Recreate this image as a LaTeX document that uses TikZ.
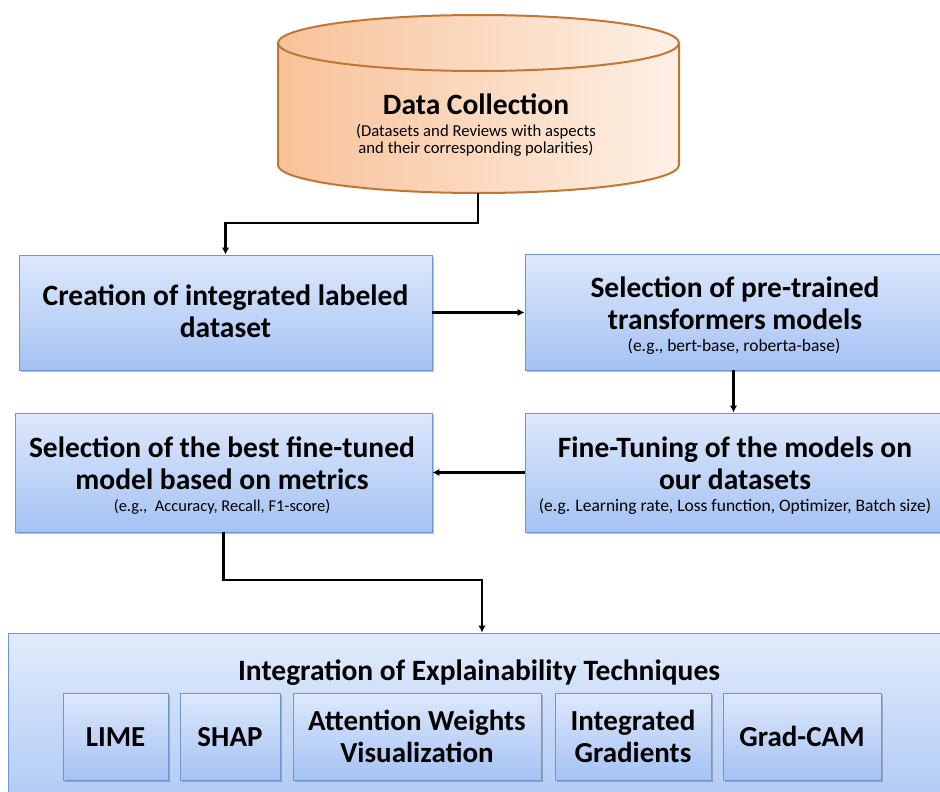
\documentclass[tikz,border=0pt]{standalone}
\usepackage{fontspec}
\setmainfont{Carlito}
\usetikzlibrary{arrows.meta,shadows,calc}

\definecolor{boxtop}{HTML}{DEE8FC}
\definecolor{boxbot}{HTML}{A4C2F3}
\definecolor{boxline}{HTML}{6F98D2}
\definecolor{bigtop}{HTML}{E2EBFC}
\definecolor{bigbot}{HTML}{B2CBF5}
\definecolor{cylleft}{HTML}{F8C299}
\definecolor{cylright}{HTML}{FEF0E6}
\definecolor{cylline}{HTML}{C17634}

\tikzset{
  procbox/.style={rectangle, draw=boxline, line width=0.9pt, inner sep=0pt,
    top color=boxtop, bottom color=boxbot,
    drop shadow={shadow xshift=1.5pt, shadow yshift=-2pt, opacity=0.35, fill=black!70}},
  bigbox/.style={procbox, top color=bigtop, bottom color=bigbot},
  maintext/.style={anchor=base, inner sep=0pt, font=\fontsize{29.5}{32}\selectfont\bfseries},
  subtext/.style={anchor=base, inner sep=0pt, font=\fontsize{17.5}{19}\selectfont},
  techtext/.style={anchor=base, inner sep=0pt, font=\fontsize{29}{32}\selectfont\bfseries},
  flow/.style={line width=2.2pt, -{Latex[length=7pt,width=7.5pt]}},
}

\begin{document}
\begin{tikzpicture}[x=1pt,y=1pt]
\clip (0,0) rectangle (940,-792);
\fill[white] (0,0) rectangle (940,-792);

% data store cylinder
\path[left color=cylleft, right color=cylright]
  (278,-43) -- (278,-165) arc[start angle=180, end angle=360, x radius=200.5, y radius=28]
  -- (679,-43) -- cycle;
\path[left color=cylleft, right color=cylright] (478.5,-43) ellipse[x radius=200.5, y radius=28];
\draw[cylline, line width=2pt]
  (278,-43) -- (278,-165) arc[start angle=180, end angle=360, x radius=200.5, y radius=28]
  -- (679,-43);
\draw[cylline, line width=2pt] (478.5,-43) ellipse[x radius=200.5, y radius=28];
\node[maintext] (dctitle) at (476,-114) {Data Collection};
\node[subtext, font=\fontsize{16.7}{18.5}\selectfont] (dcsub1) at (476,-136) {(Datasets and Reviews with aspects};
\node[subtext, font=\fontsize{16.7}{18.5}\selectfont] (dcsub2) at (476,-153) {and their corresponding polarities)};
\coordinate (dcbot) at (478,-193);

% process boxes
\node[procbox, minimum width=413pt, minimum height=115pt] (b1) at (225.5,-312.5) {};
\node[procbox, minimum width=417pt, minimum height=116pt] (b2) at (733.5,-312) {};
\node[procbox, minimum width=417pt, minimum height=119pt] (b3) at (223.5,-472.5) {};
\node[procbox, minimum width=417pt, minimum height=119pt] (b4) at (733.5,-472.5) {};

\node[maintext] (b1a) at (225.5,-305) {Creation of integrated labeled};
\node[maintext] (b1b) at (225.5,-337) {dataset};
\node[maintext] (b2a) at (735,-297) {Selection of pre-trained};
\node[maintext] (b2b) at (735,-329) {transformers models};
\node[subtext] (b2s) at (734,-351) {(e.g., bert-base, roberta-base)};
\node[maintext] (b3a) at (222,-457) {Selection of the best fine-tuned};
\node[maintext] (b3b) at (222,-489.5) {model based on metrics};
\node[subtext, font=\fontsize{16.5}{18}\selectfont] (b3s) at (222,-511) {(e.g.,~ Accuracy, Recall, F1-score)};
\node[maintext] (b4a) at (735,-457) {Fine-Tuning of the models on};
\node[maintext] (b4b) at (735,-489.5) {our datasets};
\node[subtext] (b4s) at (735,-511) {(e.g. Learning rate, Loss function, Optimizer, Batch size)};

% explainability block
\node[bigbox, minimum width=937pt, minimum height=164pt] (big) at (476.5,-715) {};
\node[techtext, font=\fontsize{29.5}{32}\selectfont\bfseries] (bigt) at (479,-680) {Integration of Explainability Techniques};
\node[procbox, minimum width=105pt, minimum height=87pt] (lime) at (115.5,-736.5) {};
\node[procbox, minimum width=100pt, minimum height=87pt] (shap) at (230,-736.5) {};
\node[procbox, minimum width=248pt, minimum height=87pt] (attn) at (417,-736.5) {};
\node[procbox, minimum width=156pt, minimum height=87pt] (ig) at (633,-736.5) {};
\node[procbox, minimum width=158pt, minimum height=87pt] (gc) at (802,-736.5) {};
\node[techtext] (limet) at (lime.center |- 0,-746) {LIME};
\node[techtext] (shapt) at (shap.center |- 0,-746) {SHAP};
\node[techtext] (attna) at (attn.center |- 0,-730) {Attention Weights};
\node[techtext] (attnb) at (attn.center |- 0,-762) {Visualization};
\node[techtext] (iga) at (ig.center |- 0,-730) {Integrated};
\node[techtext] (igb) at (ig.center |- 0,-762) {Gradients};
\node[techtext] (gct) at (gc.center |- 0,-746) {Grad-CAM};

% connectors
\draw[flow] (dcbot) |- (225.5,-223) -- (b1.north);
\draw[flow] (b1.east) -- (b1.east -| b2.west);
\draw[flow] (b2.south) -- (b4.north);
\draw[flow] (b4.west) -- (b4.west -| b3.east);
\coordinate (bend) at (482,-580);
\draw[flow] (b3.south) |- (bend) -- (bend |- big.north);
\end{tikzpicture}
\end{document}
